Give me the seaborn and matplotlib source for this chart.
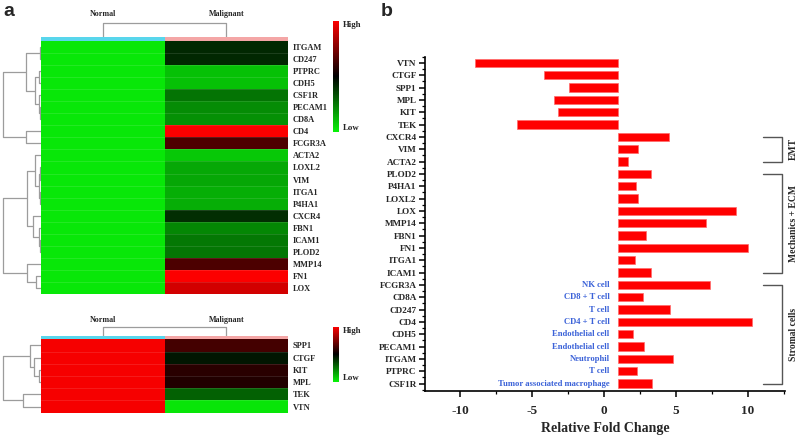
import numpy as np
import pandas as pd
import matplotlib
matplotlib.use("Agg")
import matplotlib.pyplot as plt
import seaborn as sns
from matplotlib.colors import LinearSegmentedColormap, ListedColormap
from matplotlib.ticker import MultipleLocator, FixedLocator
from matplotlib.transforms import blended_transform_factory

# ---------------- data ----------------
# Panel a, upper heatmap (scaled expression, -1 = low/green, 1 = high/red)
TOP_GENES = ["ITGAM", "CD247", "PTPRC", "CDH5", "CSF1R", "PECAM1", "CD8A", "CD4", "FCGR3A",
             "ACTA2", "LOXL2", "VIM", "ITGA1", "P4HA1", "CXCR4", "FBN1", "ICAM1", "PLOD2",
             "MMP14", "FN1", "LOX"]
TOP_NORMAL = [-0.96] * 21
TOP_MALIGNANT = [-0.17, -0.17, -0.80, -0.80, -0.48, -0.58, -0.60, 1.00, 0.31,
                 -0.83, -0.70, -0.69, -0.72, -0.72, -0.19, -0.56, -0.50, -0.49,
                 0.30, 1.00, 0.83]
# Panel a, lower heatmap
LOW_GENES = ["SPP1", "CTGF", "KIT", "MPL", "TEK", "VTN"]
LOW_NORMAL = [0.97] * 6
LOW_MALIGNANT = [0.27, -0.09, 0.16, 0.13, -0.40, -0.95]
SAMPLES = ["Normal", "Malignant"]

# Row dendrogram merges: (child a, child b, height); ids >= n_leaves are earlier merges
TOP_LINKS_1 = [(0, 1, 0.8), (2, 3, 1.5), (5, 6, 0.8), (4, 11, 2.0), (10, 12, 5.7),
               (9, 13, 14.7), (7, 8, 14.7), (14, 15, 38.0)]
TOP_LINKS_2 = [(1, 2, 1.0), (3, 4, 0.6), (12, 13, 2.0), (0, 14, 5.7), (7, 8, 0.6),
               (6, 16, 1.5), (5, 17, 7.7), (15, 18, 14.0), (10, 11, 4.7), (9, 20, 14.0),
               (19, 21, 38.0)]
LOW_LINKS = [(2, 3, 1.7), (1, 6, 6.4), (0, 7, 10.7), (4, 5, 18.0), (8, 9, 38.0)]
COL_LINK_TOP = 1.0
COL_LINK_LOW = 0.62

# Panel b
B_GENES = ["VTN", "CTGF", "SPP1", "MPL", "KIT", "TEK", "CXCR4", "VIM", "ACTA2", "PLOD2",
           "P4HA1", "LOXL2", "LOX", "MMP14", "FBN1", "FN1", "ITGA1", "ICAM1", "FCGR3A",
           "CD8A", "CD247", "CD4", "CDH5", "PECAM1", "ITGAM", "PTPRC", "CSF1R"]
B_FC = [-9.0, -4.2, -2.45, -3.5, -3.2, -6.05, 4.5, 2.4, 1.65, 3.3,
        2.2, 2.4, 9.2, 7.1, 2.95, 10.05, 2.15, 3.25, 7.35,
        2.7, 4.6, 10.3, 2.05, 2.8, 4.8, 2.3, 3.35]
BASELINE = 1.0
CELL_LABELS = {"FCGR3A": "NK cell", "CD8A": "CD8 + T cell", "CD247": "T cell",
               "CD4": "CD4 + T cell", "CDH5": "Endothelial cell", "PECAM1": "Endothelial cell",
               "ITGAM": "Neutrophil", "PTPRC": "T cell", "CSF1R": "Tumor associated macrophage"}
GROUPS = [("EMT", "CXCR4", "ACTA2"), ("Mechanics + ECM", "PLOD2", "ICAM1"),
          ("Stromal cells", "FCGR3A", "CSF1R")]

# ---------------- style ----------------
sns.set_style("white")
plt.rcParams["font.family"] = ["Liberation Serif", "DejaVu Serif"]
plt.rcParams["font.weight"] = "bold"
plt.rcParams["axes.unicode_minus"] = False

W, H = 798, 437
fig = plt.figure(figsize=(W / 100, H / 100), dpi=100)


def ax_px(l, t, r, b):
    return fig.add_axes([l / W, 1 - b / H, (r - l) / W, (b - t) / H])


cmap = LinearSegmentedColormap.from_list("gkr", ["#08f008", "#000000", "#fc0000"])
strip_cmap = ListedColormap(["#58d6ec", "#f4a6a6"])
DENDRO_C = "#9c9c9c"
HL, HR = 40.7, 288.3


def row_dendro(ax, n, offset, links):
    pos = {i: offset + i + 0.5 for i in range(n)}
    hgt = {i: 0.0 for i in range(n)}
    for k, (a, b, d) in enumerate(links):
        ya, yb = pos[a], pos[b]
        ax.plot([hgt[a], d, d, hgt[b]], [ya, ya, yb, yb], color=DENDRO_C, lw=0.9,
                solid_capstyle="butt")
        pos[n + k] = (ya + yb) / 2
        hgt[n + k] = d


def heat_block(genes, normal, malig, top, bottom, cb_top, cb_bot, link_groups,
               col_link, col_gap, label_y):
    df = pd.DataFrame({SAMPLES[0]: normal, SAMPLES[1]: malig}, index=genes)
    ax = ax_px(HL, top, HR, bottom)
    cax = ax_px(332.7, cb_top, 339.3, cb_bot)
    sns.heatmap(df, ax=ax, cmap=cmap, vmin=-1, vmax=1, cbar_ax=cax, xticklabels=False)
    for i in range(1, len(genes)):
        ax.axhline(i, color=(1, 1, 1, 0.13), lw=0.6)
    ax.yaxis.tick_right()
    ax.set_yticks(np.arange(len(genes)) + 0.5)
    ax.set_yticklabels(genes, rotation=0, fontsize=6.0, fontweight="bold")
    ax.tick_params(axis="y", length=0, pad=3)
    ax.set_xlabel("")
    ax.set_ylabel("")
    cax.set_yticks([])
    for s in cax.spines.values():
        s.set_visible(False)
    cb_mid = 343.0
    fig.text(cb_mid / W, 1 - (cb_top + 4) / H, "High", fontsize=6.3, fontweight="bold",
             va="center", ha="left")
    fig.text(cb_mid / W, 1 - (cb_bot - 4) / H, "Low", fontsize=6.3, fontweight="bold",
             va="center", ha="left")
    # column colour strip
    sax = ax_px(HL, top - 3.6, HR, top - 0.2)
    sns.heatmap(pd.DataFrame([[0, 1]], columns=SAMPLES), ax=sax, cmap=strip_cmap,
                cbar=False, xticklabels=False, yticklabels=False)
    sax.set_xlabel("")
    # column dendrogram
    dax = ax_px(HL, top - 3.6 - col_gap, HR, top - 3.6)
    dax.plot([0.5, 0.5, 1.5, 1.5], [0, col_link, col_link, 0], color=DENDRO_C, lw=0.9)
    dax.set_xlim(0, 2)
    dax.set_ylim(0, 1.2)
    dax.axis("off")
    for j, s in enumerate(SAMPLES):
        fig.text((HL + (HR - HL) * (j + 0.5) / 2) / W, 1 - label_y / H, s, fontsize=5.8,
                 fontweight="bold", ha="center", va="center")
    # row dendrogram
    rax = ax_px(0, top, HL, bottom)
    offset = 0
    for n, links in link_groups:
        row_dendro(rax, n, offset, links)
        offset += n
    rax.set_xlim(HL, 0)
    rax.set_ylim(len(genes), 0)
    rax.axis("off")


heat_block(TOP_GENES, TOP_NORMAL, TOP_MALIGNANT, 40.7, 294.3, 21.0, 131.7,
           [(9, TOP_LINKS_1), (12, TOP_LINKS_2)], COL_LINK_TOP, 16.7, 13.5)
heat_block(LOW_GENES, LOW_NORMAL, LOW_MALIGNANT, 339.3, 412.7, 326.7, 381.7,
           [(6, LOW_LINKS)], COL_LINK_LOW, 16.7, 320.0)

# ---------------- panel b ----------------
axb = ax_px(425, 56.7, 785, 391)
df_b = pd.DataFrame({"gene": B_GENES, "fc": B_FC})
sns.barplot(data=df_b, x="fc", y="gene", orient="h", color="#ff0000", saturation=1,
            width=0.68, edgecolor="#ff6a6a", linewidth=0.5, ax=axb)
for p in axb.patches:
    end = p.get_x() + p.get_width()
    p.set_x(BASELINE)
    p.set_width(end - BASELINE)
axb.set_xlim(-12.45, 12.6)
axb.set_ylim(26.6, -0.5)
axb.set_xticks([-10, -5, 0, 5, 10])
axb.xaxis.set_minor_locator(MultipleLocator(2.5))
axb.yaxis.set_minor_locator(FixedLocator(np.arange(-0.5, len(B_GENES), 1.0)))
axb.tick_params(axis="both", which="major", direction="out", length=4, width=1.1,
                color="black", bottom=True, left=True)
axb.tick_params(axis="both", which="minor", direction="out", length=2.2, width=0.9,
                color="black", bottom=True, left=True)
axb.tick_params(axis="x", labelsize=9.5, pad=6)
axb.tick_params(axis="y", labelsize=6.6, pad=2)
for lab in axb.get_xticklabels() + axb.get_yticklabels():
    lab.set_fontweight("bold")
for s in ["top", "right"]:
    axb.spines[s].set_visible(False)
for s in ["left", "bottom"]:
    axb.spines[s].set_linewidth(1.2)
    axb.spines[s].set_color("black")
axb.set_ylabel("")
axb.set_xlabel("Relative Fold Change", fontsize=10, fontweight="bold", labelpad=4)

for g, lab in CELL_LABELS.items():
    axb.text(0.4, B_GENES.index(g), lab, ha="right", va="center", color="#3b62d8",
             fontsize=6.2, fontweight="bold")

tr = blended_transform_factory(axb.transAxes, axb.transData)
bx0, bx1 = (763 - 425) / 360, (781.5 - 425) / 360
for name, g0, g1 in GROUPS:
    y0, y1 = B_GENES.index(g0), B_GENES.index(g1)
    axb.plot([bx0, bx1, bx1, bx0], [y0, y0, y1, y1], transform=tr, color="#555555",
             lw=1.0, clip_on=False)
    axb.text((793 - 425) / 360, (y0 + y1) / 2, name, transform=tr, rotation=90,
             ha="center", va="center", fontsize=6.9, fontweight="bold")

fig.text(3 / W, 1 - 12 / H, "a", fontsize=14, fontweight="bold",
         family=["Liberation Sans", "DejaVu Sans"], va="center", ha="left")
fig.text(381 / W, 1 - 12 / H, "b", fontsize=14, fontweight="bold",
         family=["Liberation Sans", "DejaVu Sans"], va="center", ha="left")

fig.savefig("out.png", dpi=100)
